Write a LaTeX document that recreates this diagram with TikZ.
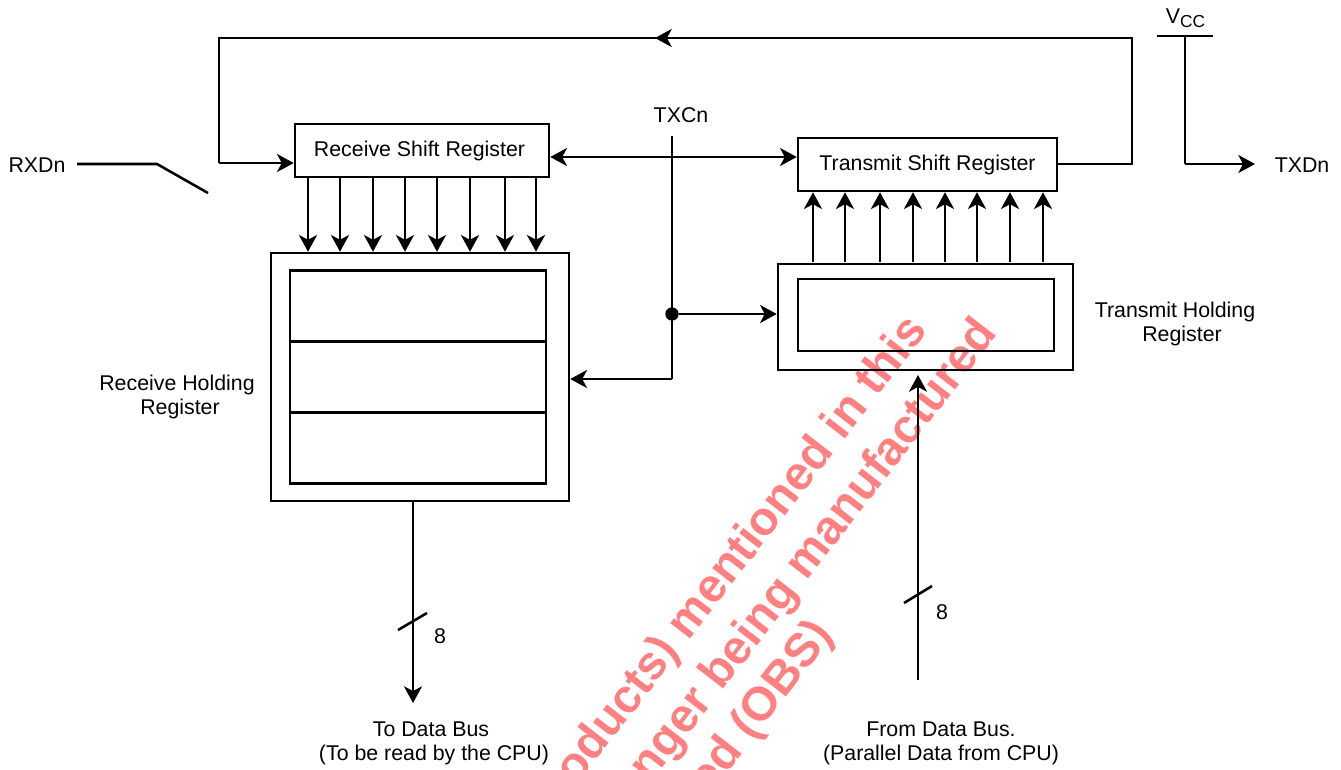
\documentclass[tikz,border=0pt]{standalone}
\usepackage{fontspec}
\setmainfont{Liberation Sans}
\usetikzlibrary{arrows.meta}
\tikzset{
  reg/.style={draw,inner sep=0pt},
  lab/.style={inner sep=0pt,align=center,font=\fontsize{16}{18}\selectfont},
  wmark/.style={inner sep=0pt,rotate=52.3,anchor=base east,text=red!50,font=\fontsize{35.5}{36}\selectfont\bfseries},
  dot/.style={circle,fill=black,inner sep=0pt,outer sep=0pt,minimum size=10}
}
\begin{document}
\begin{tikzpicture}[x=0.75pt,y=-0.75pt,line width=1.9pt,>={Stealth[length=12.5pt,width=13.5pt,inset=3.5pt]}]
\useasboundingbox (0,0) rectangle (1341,769);
\begin{scope}
\clip (0,0) rectangle (1341,769);
\node[wmark] (wma) at (929,330) {oducts) mentioned in this};
\node[wmark] (wmb) at (999,333) {nger being manufactured};
\node[wmark] (wmc) at (835,634) {ed (OBS)};
\end{scope}

\node[reg,minimum width=190.5pt,minimum height=39.75pt] (rsr) at (422,150.5) {};
\node[reg,minimum width=194.25pt,minimum height=39.75pt] (tsr) at (927.5,164.5) {};
\node[reg,minimum width=223.5pt,minimum height=186pt] (rhr) at (420,377) {};
\node[reg,minimum width=192pt,minimum height=53.25pt] (rhra) at (418,306) {};
\node[reg,minimum width=192pt,minimum height=53.25pt] (rhrb) at (418,377) {};
\node[reg,minimum width=192pt,minimum height=53.25pt] (rhrc) at (418,448) {};
\node[reg,minimum width=221.25pt,minimum height=79.5pt] (thr) at (925.5,317) {};
\node[reg,minimum width=192pt,minimum height=54pt] (thra) at (926,315) {};

\node[lab] (rsl) at (419.5,151) {Receive Shift Register};
\node[lab] (tsl) at (927.5,165) {Transmit Shift Register};
\node[lab] (rxd) at (37,165) {RXDn};
\node[lab] (txc) at (681,115) {TXCn};
\node[lab] (txd) at (1302,165) {TXDn};
\node[lab] (vcc) at (1185.5,18) {V\raisebox{-3pt}{\fontsize{13}{13}\selectfont CC}};
\node[lab] (rhl) at (177,397) {Receive Holding\\\hspace*{4.5pt}Register};
\node[lab] (thl) at (1175,324) {Transmit Holding\\\hspace*{10.5pt}Register};
\node[lab] (tob) at (434,743) {To Data Bus\hspace*{4.5pt}\\(To be read by the CPU)};
\node[lab] (frb) at (941,743) {From Data Bus.\\(Parallel Data from CPU)};
\node[lab] (ra) at (440,636) {8};
\node[lab] (rb) at (942,612) {8};

\foreach \x in {308,340,373,405,437,470,505,536}
  \draw[->] (rsr.south -| \x,0) -- (rhr.north -| \x,0);
\foreach \x in {813,845,880,913,945,977,1010,1043}
  \draw[->] (\x,262) -- (tsr.south -| \x,0);

\coordinate (fbr) at (1132,164);
\coordinate (fbtr) at (1132,38);
\coordinate (fbm) at (655,38);
\coordinate (fbtl) at (219,38);
\coordinate (fbl) at (219,163);
\draw (tsr.east |- fbr) -- (fbr) -- (fbtr) -- (fbtl) -- (fbl);
\draw[->] (fbtr) -- (fbm);
\draw[->] (fbl) -- (rsr.west |- fbl);

\coordinate (rxa) at (77,164);
\coordinate (rxb) at (157,164);
\coordinate (rxc) at (208,193);
\draw (rxa) -- (rxb) -- (rxc);

\coordinate (bd) at (672,157);
\draw[<->] (rsr.east |- bd) -- (tsr.west |- bd);

\coordinate (txt) at (672,136);
\coordinate (txb) at (672,379);
\node[dot] (jn) at (672,314) {};
\draw (txt) -- (txb);
\draw[->] (txb) -- (rhr.east |- txb);
\draw[->] (jn) -- (thr.west |- jn);

\coordinate (vl) at (1157,36);
\coordinate (vr) at (1213,36);
\coordinate (vt) at (1185,36);
\coordinate (vb) at (1185,164);
\draw (vl) -- (vr);
\draw (vt) -- (vb);
\draw[->] (vb) -- (1255,164);

\coordinate (dbe) at (413,703);
\draw[->] (rhr.south -| dbe) -- (dbe);
\draw (398,630) -- (427,613);
\coordinate (ube) at (918,680);
\draw[->] (ube) -- (918,375);
\draw (904,603) -- (932,586);
\end{tikzpicture}
\end{document}
